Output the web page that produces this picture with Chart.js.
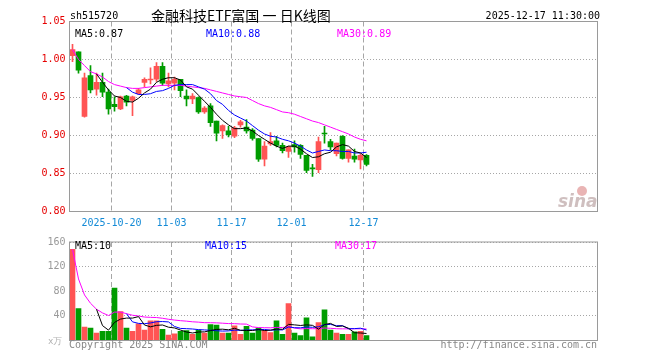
<!DOCTYPE html>
<html>
<head>
<meta charset="utf-8">
<script src="https://cdn.jsdelivr.net/npm/chart.js@4/dist/chart.umd.min.js"></script>
<style>
  body { margin: 0; background: #fff; width: 660px; height: 360px; position: relative; overflow: hidden; }
  #price { position: absolute; left: 0; top: 0; }
  #vol { position: absolute; left: 0; top: 232px; }
</style>
</head>
<body>
<canvas id="price" width="660" height="232"></canvas>
<canvas id="vol" width="660" height="128"></canvas>
<script>
// daily K line, sh515720
const dates = [
  '2025-10-09','2025-10-10','2025-10-13','2025-10-14','2025-10-15','2025-10-16','2025-10-17',
  '2025-10-20','2025-10-21','2025-10-22','2025-10-23','2025-10-24',
  '2025-10-27','2025-10-28','2025-10-29','2025-10-30','2025-10-31',
  '2025-11-03','2025-11-04','2025-11-05','2025-11-06','2025-11-07',
  '2025-11-10','2025-11-11','2025-11-12','2025-11-13','2025-11-14',
  '2025-11-17','2025-11-18','2025-11-19','2025-11-20','2025-11-21',
  '2025-11-24','2025-11-25','2025-11-26','2025-11-27','2025-11-28',
  '2025-12-01','2025-12-02','2025-12-03','2025-12-04','2025-12-05',
  '2025-12-08','2025-12-09','2025-12-10','2025-12-11','2025-12-12',
  '2025-12-15','2025-12-16','2025-12-17'
];
const tickDates = ['2025-10-20', '2025-11-03', '2025-11-17', '2025-12-01', '2025-12-17'];

const opens = [1.005,1.010,0.925,0.979,0.961,0.970,0.957,0.941,0.935,0.952,0.946,0.955,0.970,0.973,0.974,0.991,0.968,0.969,0.974,0.952,0.948,0.950,0.931,0.939,0.919,0.906,0.906,0.899,0.914,0.911,0.907,0.896,0.869,0.889,0.893,0.887,0.879,0.888,0.887,0.874,0.857,0.855,0.903,0.892,0.876,0.899,0.870,0.873,0.868,0.874];
const highs = [1.020,1.010,0.982,0.992,0.982,0.982,0.961,0.951,0.952,0.953,0.952,0.962,0.976,0.989,0.996,0.996,0.982,0.977,0.974,0.960,0.955,0.951,0.938,0.942,0.919,0.914,0.912,0.912,0.920,0.921,0.909,0.896,0.892,0.904,0.899,0.890,0.886,0.893,0.888,0.874,0.862,0.898,0.912,0.895,0.890,0.900,0.881,0.882,0.876,0.875];
const lows = [0.997,0.982,0.924,0.956,0.953,0.951,0.928,0.932,0.934,0.939,0.926,0.954,0.964,0.968,0.971,0.966,0.964,0.960,0.951,0.939,0.942,0.929,0.929,0.912,0.893,0.896,0.898,0.897,0.911,0.903,0.894,0.866,0.860,0.887,0.885,0.877,0.871,0.878,0.870,0.851,0.846,0.851,0.890,0.881,0.873,0.869,0.865,0.865,0.856,0.860];
const closes = [1.013,0.986,0.976,0.960,0.970,0.957,0.935,0.938,0.951,0.944,0.951,0.960,0.974,0.974,0.991,0.969,0.972,0.974,0.959,0.948,0.952,0.931,0.936,0.917,0.903,0.913,0.901,0.910,0.918,0.906,0.896,0.869,0.886,0.892,0.887,0.880,0.885,0.885,0.875,0.854,0.856,0.892,0.902,0.885,0.890,0.870,0.881,0.869,0.874,0.862];

const ma5 = [null,null,null,null,0.981,0.970,0.960,0.952,0.950,0.945,0.944,0.949,0.956,0.961,0.970,0.974,0.976,0.976,0.973,0.964,0.961,0.953,0.945,0.937,0.928,0.920,0.914,0.909,0.909,0.910,0.906,0.900,0.895,0.890,0.886,0.883,0.886,0.886,0.882,0.876,0.871,0.872,0.876,0.878,0.885,0.888,0.886,0.879,0.877,0.871];
const ma10 = [null,null,null,null,null,null,null,null,null,0.963,0.957,0.954,0.954,0.955,0.958,0.959,0.962,0.966,0.967,0.967,0.967,0.964,0.961,0.955,0.946,0.941,0.933,0.927,0.923,0.919,0.913,0.907,0.902,0.899,0.898,0.895,0.893,0.890,0.886,0.881,0.877,0.879,0.881,0.880,0.880,0.879,0.879,0.877,0.877,0.878];
const ma30 = [1.013,1.000,0.992,0.984,0.981,0.977,0.971,0.967,0.965,0.963,0.962,0.962,0.963,0.964,0.965,0.966,0.966,0.966,0.966,0.965,0.964,0.963,0.962,0.960,0.958,0.956,0.954,0.952,0.951,0.950,0.946,0.942,0.939,0.937,0.934,0.931,0.930,0.928,0.925,0.922,0.919,0.917,0.914,0.911,0.908,0.905,0.902,0.898,0.895,0.893];

// volume, 万手
const volumes = [148,52,22,20,12,15,15,85,47,20,15,27,17,32,32,18,9,11,15,16,10,17,12,26,25,12,12,24,10,23,12,20,16,13,32,10,60,12,8,37,6,29,50,17,12,10,10,14,15,8];
const volMa5 = [null,null,null,null,50.8,24.2,16.8,29.4,34.8,36.4,36.4,38.8,25.2,22.2,24.6,25.2,21.6,20.4,17,13.8,12.2,13.8,14,16.2,18,18.4,17.4,19.8,16.6,16.2,16.2,17.8,16.2,16.8,18.6,18.2,26.2,25.4,24.4,25.4,24.6,18.4,26,27.8,22.8,23.6,19.8,12.6,12.2,11.4];
const volMa10 = [null,null,null,null,null,null,null,null,null,43.6,30.3,27.8,27.3,28.5,30.5,30.8,30.2,22.8,19.6,19.2,18.7,17.7,17.2,16.6,15.9,15.3,15.6,16.9,16.4,17.1,17.3,17.6,18,16.7,17.4,17.2,22,20.8,20.6,22,21.4,22.3,25.7,26.1,24.1,24.1,19.1,19.3,20,17.1];
const volMa30 = [148,100,74,60.5,50.8,44.8,40.6,46.1,46.2,43.6,41,39.8,38.1,37.6,37.3,36.1,34.5,33.2,32.2,31.4,30.4,29.8,29,28.9,28.7,28.1,27.5,27.4,26.8,26.6,22.1,21,20.8,20.6,21.3,21.1,22.6,20.2,18.9,19.4,19.1,19.2,20.3,19.8,19.1,18.9,18.9,19,19,18.7];

const RED = '#ff5454';
const GREEN = '#009c00';
const GRID = '#a6a6a6';
const FRAME = '#9a9a9a';
const MONO = '10px "DejaVu Sans Mono"';

const SLOTS = 88; // the axis leaves room for more days than are drawn
const labels = dates.concat(new Array(SLOTS - dates.length).fill(''));
const colors = closes.map((c, i) => c >= opens[i] ? RED : GREEN);

function xScale(showTicks) {
  return {
    offset: true,
    grid: {
      offset: true,
      drawTicks: false,
      color: c => tickDates.includes(labels[c.index]) ? GRID : 'rgba(0,0,0,0)'
    },
    border: { display: false, dash: [5, 3] },
    ticks: {
      display: showTicks,
      autoSkip: false,
      maxRotation: 0,
      minRotation: 0,
      padding: 6,
      labelOffset: -3,
      color: '#138ad6',
      font: { family: 'DejaVu Sans Mono', size: 10 },
      callback: (v, i) => {
        const d = labels[i];
        if (!tickDates.includes(d)) return '';
        return d === tickDates[0] ? d : d.slice(5);
      }
    },
    afterFit: s => { s.height = showTicks ? 20.5 : 19.5; }
  };
}

const lineDs = (data, color) => ({
  type: 'line', data, borderColor: color, borderWidth: 1, pointRadius: 0, order: 0
});

// plot frame + free texts
const frame = {
  id: 'frame',
  afterDatasetsDraw(chart) {
    const { ctx, chartArea: a } = chart;
    ctx.save();
    ctx.strokeStyle = FRAME;
    ctx.lineWidth = 1;
    ctx.strokeRect(a.left, a.top, a.right - a.left, a.bottom - a.top);
    ctx.restore();
  }
};

function texts(id, list, extra) {
  return {
    id,
    afterDraw(chart) {
      const ctx = chart.ctx;
      ctx.save();
      ctx.textBaseline = 'middle';
      list.forEach(t => {
        ctx.font = t.font || MONO;
        ctx.fillStyle = t.color || '#000';
        ctx.textAlign = t.align || 'left';
        ctx.fillText(t.text, t.x, t.y);
      });
      if (extra) extra(ctx);
      ctx.restore();
    }
  };
}

function sinaLogo(ctx) {
  ctx.globalAlpha = 0.5;
  ctx.fillStyle = '#d46a6a';
  ctx.beginPath();
  ctx.arc(582, 191, 5, 0, Math.PI * 2);
  ctx.fill();
  ctx.fillStyle = '#a08080';
  ctx.font = 'italic bold 17px "DejaVu Sans"';
  ctx.textAlign = 'left';
  ctx.textBaseline = 'alphabetic';
  ctx.fillText('sina', 558, 207);
  ctx.globalAlpha = 1;
}

new Chart(document.getElementById('price'), {
  type: 'bar',
  data: {
    labels,
    datasets: [
      lineDs(ma5, '#000000'),
      lineDs(ma10, '#0000ff'),
      lineDs(ma30, '#ff00ff'),
      { data: lows.map((l, i) => [l, highs[i]]), backgroundColor: colors, barThickness: 1, grouped: false, order: 2 },
      { data: opens.map((o, i) => [o, closes[i]]), backgroundColor: colors, barThickness: 5, minBarLength: 1, grouped: false, order: 1 }
    ]
  },
  options: {
    responsive: false,
    animation: false,
    devicePixelRatio: 1,
    layout: { padding: { left: 0, right: 62.5, top: 21.5, bottom: 0 } },
    plugins: { legend: { display: false }, tooltip: { enabled: false } },
    scales: {
      x: xScale(true),
      y: {
        min: 0.80,
        max: 1.05,
        afterFit: s => { s.width = 69.5; },
        grid: { drawTicks: false, color: GRID },
        border: { display: false, dash: [1, 2] },
        ticks: { stepSize: 0.05, padding: 4, color: '#e60000', font: { family: 'DejaVu Sans Mono', size: 10 }, callback: v => v.toFixed(2) }
      }
    }
  },
  plugins: [frame, texts('priceText', [
    { text: 'sh515720', x: 70, y: 16 },
    { text: '金融科技ETF富国 一 日K线图', x: 151, y: 16, font: '14px "Noto Sans CJK SC"' },
    { text: '2025-12-17 11:30:00', x: 600, y: 16, align: 'right' },
    { text: 'MA5:0.87', x: 75, y: 34 },
    { text: 'MA10:0.88', x: 206, y: 34, color: '#0000ff' },
    { text: 'MA30:0.89', x: 337, y: 34, color: '#ff00ff' }
  ], sinaLogo)]
});

new Chart(document.getElementById('vol'), {
  type: 'bar',
  data: {
    labels,
    datasets: [
      lineDs(volMa5, '#000000'),
      lineDs(volMa10, '#0000ff'),
      lineDs(volMa30, '#ff00ff'),
      { data: volumes, backgroundColor: colors, barThickness: 5, grouped: false, order: 1 }
    ]
  },
  options: {
    responsive: false,
    animation: false,
    devicePixelRatio: 1,
    layout: { padding: { left: 0, right: 62.5, top: 8.5, bottom: 0 } },
    plugins: { legend: { display: false }, tooltip: { enabled: false } },
    scales: {
      x: xScale(false),
      y: {
        min: 0,
        max: 160,
        afterFit: s => { s.width = 69.5; },
        grid: { drawTicks: false, color: GRID },
        border: { display: false, dash: [1, 2] },
        ticks: { stepSize: 40, padding: 4, color: '#999999', font: { family: 'DejaVu Sans Mono', size: 10 }, callback: v => v === 0 ? '' : v }
      }
    }
  },
  plugins: [frame, texts('volText', [
    { text: 'MA5:10', x: 75, y: 14 },
    { text: 'MA10:15', x: 205, y: 14, color: '#0000ff' },
    { text: 'MA30:17', x: 335, y: 14, color: '#ff00ff' },
    { text: 'x万', x: 48, y: 110, color: '#b0b0b0', font: '9px "DejaVu Sans Mono"' },
    { text: 'Copyright 2025 SINA.COM', x: 69, y: 113, color: '#888888' },
    { text: 'http://finance.sina.com.cn', x: 597, y: 113, color: '#888888', align: 'right' }
  ])]
});
</script>
</body>
</html>
